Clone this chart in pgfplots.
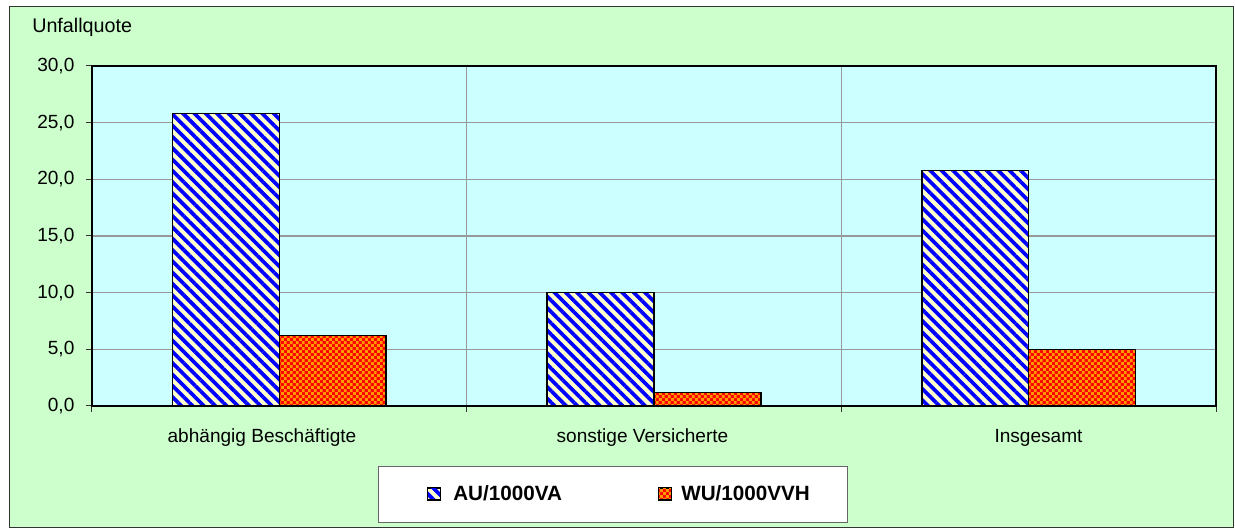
\documentclass[border=0pt]{standalone}
\usepackage{pgfplots}
\pgfplotsset{compat=1.18}
\usepackage{fontspec}
\setmainfont{Liberation Sans}
\usetikzlibrary{patterns,patterns.meta}
\definecolor{bggreen}{HTML}{CCFFCC}
\definecolor{plotcyan}{HTML}{CCFFFF}
\definecolor{lightyel}{HTML}{FFFFCC}
\definecolor{barblue}{HTML}{0000FF}
\definecolor{barred}{HTML}{FF0000}
\definecolor{barorange}{HTML}{FF9900}
\definecolor{gridgray}{HTML}{999999}
\tikzdeclarepattern{
  name=smallchecker,
  type=uncolored,
  bounding box={(0,0) and (4.4pt,4.4pt)},
  tile size={(4.4pt,4.4pt)},
  code={\fill (0,0) rectangle (2.2pt,2.2pt); \fill (2.2pt,2.2pt) rectangle (4.4pt,4.4pt);}
}
\begin{document}
\fontsize{14.3}{17}\selectfont
\begin{tikzpicture}[x=0.75pt,y=0.75pt]
\fill[white] (0,0) rectangle (1235,530);
\filldraw[fill=bggreen, draw=black!80, line width=0.75pt] (9,2) rectangle (1233,523);
\filldraw[fill=white, draw=black!60, line width=0.75pt] (378,7) rectangle (847,63);
\node[anchor=base west, inner sep=0pt, font=\fontsize{14.8}{17}\selectfont] at (32,497) {Unfallquote};
\begin{axis}[
  at={(69pt,93pt)}, anchor=south west,
  width=843pt, height=255pt, scale only axis,
  xmin=0, xmax=3, ymin=0, ymax=30,
  axis background/.style={fill=plotcyan},
  axis line style={black, line width=1.5pt},
  xtick={0,1,2,3}, xticklabels={},
  ytick={0,5,...,30},
  tick pos=left,
  xmajorgrids, ymajorgrids,
  grid style={gridgray, line width=1pt},
  tick align=outside, major tick length=4.5pt,
  tick style={black!80, line width=0.75pt},
  extra x ticks={0.4537,1.4693,2.5262},
  extra x tick labels={abhängig Beschäftigte, sonstige Versicherte, Insgesamt},
  extra x tick style={grid=none, major tick length=0pt, xticklabel style={anchor=base, yshift=-27.5pt}},
  yticklabel style={xshift=-3.75pt, /pgf/number format/.cd, fixed, fixed zerofill, precision=1, use comma, assume math mode=true},
  ticklabel style={font=\fontsize{14.3}{17}\selectfont},
  legend columns=2,
  legend style={at={(0.29804,-0.25882)}, anchor=west, draw=none, fill=none, inner sep=0pt,
    nodes={inner sep=0pt}, font=\fontsize{15.5}{18}\selectfont\bfseries},
  legend image code/.code={\draw[#1, line width=0.75pt] (0pt,-4.5pt) rectangle (9.75pt,4.5pt);},
]
\addplot[ybar, bar width=0.2853, bar shift=-0.14265,
  preaction={fill=lightyel},
  pattern={Lines[angle=-45,distance=6pt,line width=2.8pt]}, pattern color=barblue,
  draw=black, line width=1.1pt]
  coordinates {(0.5,25.8) (1.5,10.0) (2.5,20.8)};
\addlegendentry{\makebox[162.75pt][l]{\hspace{9pt}AU/1000VA}}
\addplot[ybar, bar width=0.2853, bar shift=0.14265,
  preaction={fill=barred},
  pattern=smallchecker, pattern color=barorange,
  draw=black, line width=1.1pt]
  coordinates {(0.5,6.2) (1.5,1.2) (2.5,5.0)};
\addlegendentry{\makebox[100pt][l]{\hspace{6.75pt}WU/1000VVH}}
\end{axis}
\end{tikzpicture}
\end{document}
